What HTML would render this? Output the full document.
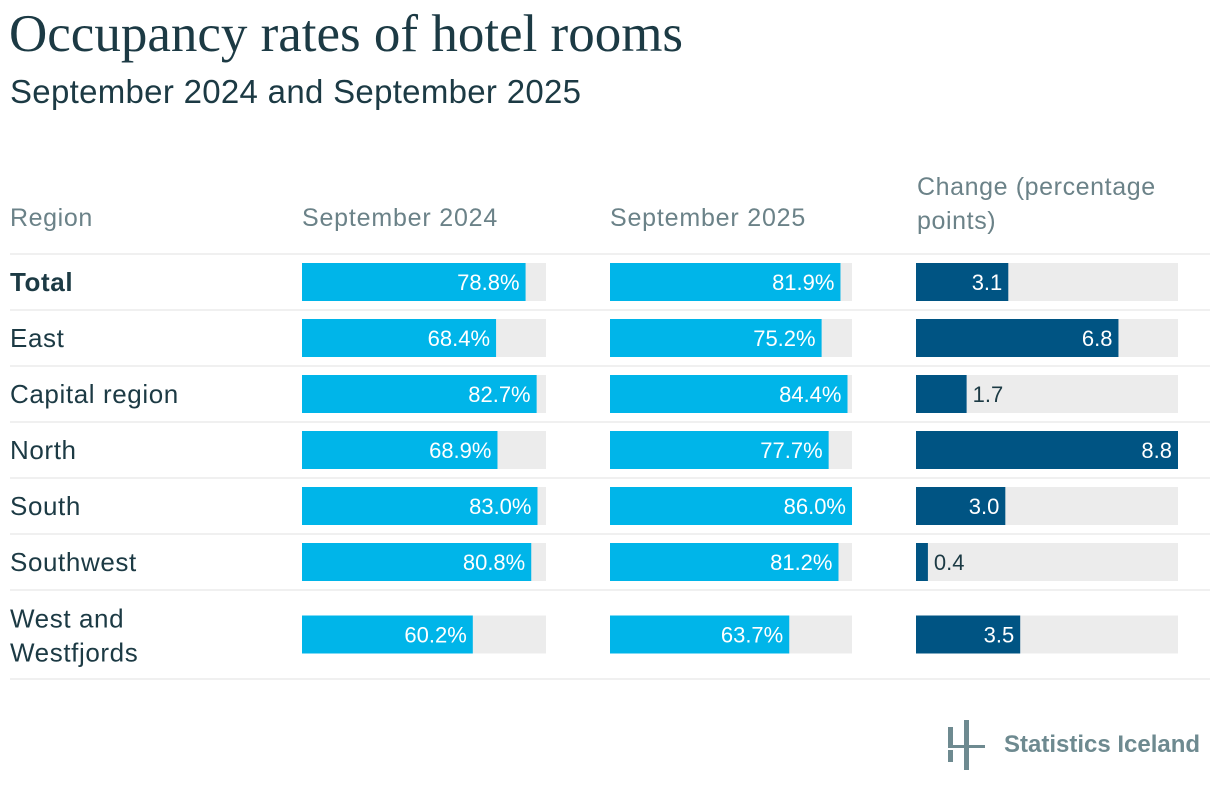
<!DOCTYPE html>
<html><head><meta charset="utf-8"><style>
body{margin:0;width:1220px;height:796px;background:#fff;font-family:"Liberation Sans",sans-serif;overflow:hidden;position:relative}
.t{position:absolute;white-space:nowrap}
</style></head><body>
<div class="t" style="left:9px;top:4px;font-family:'Liberation Serif',serif;font-size:53px;color:#1c3a44">Occupancy rates of hotel rooms</div>
<div class="t" style="left:10px;top:73px;font-size:33px;font-weight:300;color:#1c3a44;letter-spacing:0.3px">September 2024 and September 2025</div>
<div class="t" style="left:10px;top:204px;font-size:25px;color:#6b8288;letter-spacing:0.6px">Region</div>
<div class="t" style="left:302px;top:204px;font-size:25px;color:#6b8288;letter-spacing:0.8px">September 2024</div>
<div class="t" style="left:610px;top:204px;font-size:25px;color:#6b8288;letter-spacing:0.8px">September 2025</div>
<div class="t" style="left:917px;top:170px;font-size:25px;color:#6b8288;line-height:34px;letter-spacing:0.6px">Change (percentage<br>points)</div>
<svg id="chart" width="1220" height="796" style="position:absolute;left:0;top:0"></svg>
<svg width="60" height="60" style="position:absolute;left:940px;top:715px">
<rect x="8" y="12" width="5" height="18" fill="#6e8a90"/><rect x="8" y="35" width="5" height="12" fill="#6e8a90"/><rect x="24" y="5" width="5" height="50" fill="#6e8a90"/><rect x="8" y="30" width="37" height="3" fill="#6e8a90"/></svg>
<div class="t" style="left:1004px;top:731px;font-size:24px;font-weight:bold;color:#6e8a90">Statistics Iceland</div>
<script>
const regions=["Total","East","Capital region","North","South","Southwest","West and Westfjords"];
const sep2024=[78.8,68.4,82.7,68.9,83.0,80.8,60.2];
const sep2025=[81.9,75.2,84.4,77.7,86.0,81.2,63.7];
const change=[3.1,6.8,1.7,8.8,3.0,0.4,3.5];
const svg=document.getElementById('chart');
const NS='http://www.w3.org/2000/svg';
function mk(t,a){const e=document.createElementNS(NS,t);for(const k in a)e.setAttribute(k,a[k]);svg.appendChild(e);return e;}
const pctMax=Math.max(...sep2024,...sep2025);
const chMax=Math.max(...change);
const cols=[{x:302,w:244,d:sep2024,max:pctMax,c:'#00b5e9',f:v=>v.toFixed(1)+'%',n:'sep2024'},
{x:610,w:242,d:sep2025,max:pctMax,c:'#00b5e9',f:v=>v.toFixed(1)+'%',n:'sep2025'},
{x:916,w:262,d:change,max:chMax,c:'#005483',f:v=>v.toFixed(1),n:'change'}];
const top0=254,rh=56;
function rowY(i){return i<6?top0+i*rh:top0+6*rh;}
function rowH(i){return i<6?rh:89;}
let l=mk('line',{x1:10,x2:1210,y1:top0,y2:top0,stroke:'#e2e2e2','stroke-width':1});


regions.forEach((r,i)=>{
 const y=rowY(i),h=rowH(i),cy=y+h/2;
 const ln=mk('line',{x1:10,x2:1210,y1:y+h,y2:y+h,stroke:'#e2e2e2','stroke-width':1});
 
 
 const lab=mk('text',{x:10,y:cy+9,'font-size':26,fill:'#1c3a44','font-weight':i==0?'bold':'normal','letter-spacing':'0.6'});
 
 
 if(r.length>15){const p=r.split(' and ');lab.innerHTML='<tspan x="10" y="'+(cy-7)+'">'+p[0]+' and</tspan><tspan x="10" y="'+(cy+27)+'">'+p[1]+'</tspan>';}else lab.textContent=r;
 cols.forEach(c=>{
  const v=c.d[i],bw=v/c.max*c.w;
  const bg=mk('rect',{x:c.x,y:cy-19,width:c.w,height:38,fill:'#ececec'});
  
  
  const b=mk('rect',{x:c.x,y:cy-19,width:bw,height:38,fill:c.c});
  
  
  const inside=bw>60;
  const t=mk('text',{x:inside?c.x+bw-6:c.x+bw+6,y:cy+8,'font-size':22,fill:inside?'#fff':'#1c3a44','text-anchor':inside?'end':'start'});
  t.textContent=c.f(v);
  
  
 });
});
</script>
</body></html>
